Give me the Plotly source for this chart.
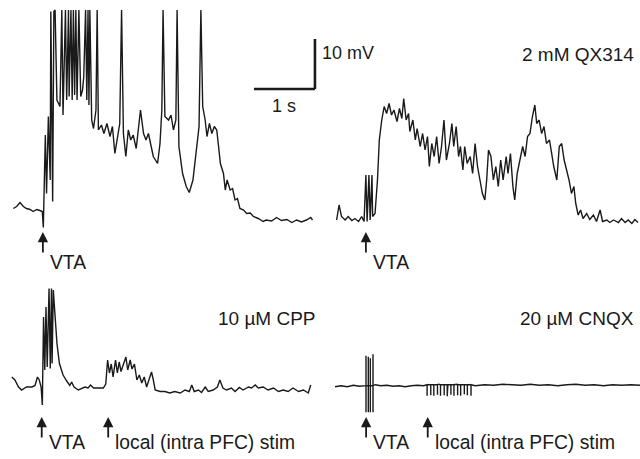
import plotly.graph_objects as go

# ---------------- data (time in s, membrane potential in mV relative to rest) ----------------
# Control (top-left)
ctrl_t = [0.005, 0.06, 0.115, 0.17, 0.22, 0.28, 0.33, 0.39, 0.44, 0.48, 0.497, 0.51, 0.53, 0.55, 0.58, 0.61,
          0.62, 0.65, 0.67, 0.69, 0.72, 0.77, 0.80, 0.82, 0.86, 0.88, 0.91, 0.92, 0.95, 0.97, 0.99, 1.01,
          1.03, 1.05, 1.08, 1.11, 1.14, 1.16, 1.19, 1.21, 1.23, 1.245, 1.26, 1.29, 1.32, 1.36, 1.38, 1.40,
          1.45, 1.49, 1.54, 1.59, 1.63, 1.67, 1.71, 1.75, 1.78, 1.81, 1.85, 1.89, 1.93, 1.97, 2.02, 2.05,
          2.09, 2.14, 2.18, 2.22, 2.26, 2.30, 2.37, 2.41, 2.44, 2.46, 2.49, 2.55, 2.59, 2.63, 2.67, 2.69,
          2.72, 2.78, 2.84, 2.89, 2.95, 3.01, 3.05, 3.08, 3.11, 3.15, 3.18, 3.22, 3.26, 3.30, 3.34, 3.37,
          3.40, 3.45, 3.48, 3.51, 3.56, 3.60, 3.64, 3.68, 3.72, 3.78, 3.83, 3.89, 3.94, 4.02, 4.10, 4.15,
          4.24, 4.32, 4.40, 4.49, 4.57, 4.65, 4.73, 4.81, 4.88, 4.91]
ctrl_v = [0.3, 0.7, 1.5, 0.7, 0.3, 0.1, -0.3, 0.1, -0.1, -0.3, -3.5, 4.7, 15.0, 3.3, 18.7, 6.0,
          39.7, 1.7, 39.7, 40.0, 22.0, 20.7, 40.0, 19.0, 40.0, 22.0, 40.0, 22.7, 40.0, 22.0, 40.0, 23.0,
          40.0, 22.0, 40.0, 22.7, 24.0, 26.7, 40.0, 22.0, 40.0, 21.0, 40.0, 18.0, 16.3, 20.0, 40.0, 16.0,
          17.0, 15.3, 17.3, 14.7, 16.7, 11.3, 14.7, 17.3, 40.0, 15.3, 10.7, 16.0, 14.0, 15.0, 12.3, 15.3,
          20.0, 15.3, 14.0, 15.3, 13.3, 10.7, 9.3, 13.3, 20.0, 40.0, 18.7, 18.0, 19.0, 16.0, 18.0, 40.0,
          12.7, 7.3, 4.7, 3.5, 6.0, 12.0, 16.7, 40.0, 20.7, 18.0, 14.7, 17.3, 15.3, 16.7, 16.0, 12.7,
          9.3, 7.3, 4.0, 6.0, 4.0, 4.3, 2.0, 2.3, 0.3, 0.0, -0.7, -0.6, -1.3, -1.7, -2.3, -2.0,
          -2.2, -1.5, -2.1, -1.9, -2.5, -2.0, -2.4, -2.0, -1.5, -2.0]

# 2 mM QX314 (top-right)
qx_t = [0.01, 0.05, 0.09, 0.15, 0.20, 0.26, 0.31, 0.37, 0.42, 0.46, 0.49, 0.51, 0.54, 0.56, 0.59, 0.60,
        0.64, 0.68, 0.71, 0.75, 0.79, 0.83, 0.87, 0.91, 0.95, 1.00, 1.04, 1.08, 1.11, 1.15, 1.19, 1.21,
        1.26, 1.30, 1.33, 1.38, 1.42, 1.46, 1.50, 1.53, 1.57, 1.61, 1.65, 1.69, 1.73, 1.77, 1.81, 1.86,
        1.90, 1.93, 1.97, 2.01, 2.04, 2.08, 2.11, 2.15, 2.20, 2.24, 2.28, 2.32, 2.36, 2.40, 2.44, 2.47,
        2.50, 2.54, 2.58, 2.62, 2.66, 2.70, 2.74, 2.79, 2.82, 2.86, 2.90, 2.93, 2.97, 3.02, 3.06, 3.10,
        3.14, 3.18, 3.22, 3.26, 3.29, 3.33, 3.37, 3.41, 3.45, 3.50, 3.54, 3.57, 3.62, 3.66, 3.70, 3.74,
        3.78, 3.82, 3.86, 3.90, 3.93, 3.97, 4.01, 4.05, 4.11, 4.16, 4.22, 4.27, 4.33, 4.37, 4.44, 4.49,
        4.55, 4.63, 4.68, 4.74, 4.79, 4.85, 4.90, 4.95]
qx_v = [0.0, 3.0, 0.7, 0.0, 0.7, -0.1, 0.3, -0.3, 0.7, -0.3, 9.0, -0.3, 9.0, 0.0, 9.0, 0.7,
        1.3, 8.0, 16.0, 20.0, 22.7, 21.3, 23.3, 21.0, 22.0, 19.7, 22.3, 20.3, 24.3, 20.0, 21.3, 17.7,
        20.0, 16.0, 18.3, 14.7, 17.3, 14.0, 16.7, 10.7, 15.3, 12.7, 16.7, 11.3, 14.7, 20.0, 12.0, 15.3,
        19.3, 14.7, 18.7, 12.7, 14.7, 10.0, 14.7, 11.3, 12.7, 9.3, 15.3, 10.7, 8.0, 5.3, 4.0, 8.0,
        14.0, 12.7, 8.0, 10.7, 6.7, 12.0, 8.0, 12.7, 9.3, 13.3, 6.7, 4.0, 9.3, 12.7, 14.7, 12.7,
        16.7, 17.3, 20.7, 23.0, 19.3, 20.0, 17.3, 18.7, 15.3, 16.0, 12.7, 10.7, 8.0, 14.7, 15.3, 12.0,
        10.0, 8.0, 5.3, 6.7, 3.3, 1.0, 2.0, 0.3, 1.3, 0.1, 1.0, -0.3, 2.0, -0.3, 0.0, -0.5,
        0.0, -0.5, 0.3, -0.5, 0.0, -0.7, 0.1, -0.5]

# 10 uM CPP (bottom-left)
cpp_t = [0.03, 0.08, 0.14, 0.19, 0.27, 0.36, 0.41, 0.45, 0.48, 0.51, 0.53, 0.55, 0.57, 0.59, 0.61, 0.64,
         0.66, 0.68, 0.69, 0.71, 0.74, 0.77, 0.81, 0.87, 0.93, 0.98, 1.01, 1.05, 1.12, 1.18, 1.23, 1.28,
         1.32, 1.37, 1.45, 1.53, 1.57, 1.60, 1.63, 1.66, 1.69, 1.73, 1.76, 1.79, 1.82, 1.86, 1.90, 1.93,
         1.97, 2.00, 2.04, 2.08, 2.12, 2.16, 2.20, 2.24, 2.28, 2.32, 2.35, 2.38, 2.46, 2.54, 2.62, 2.70,
         2.79, 2.87, 2.94, 2.98, 3.02, 3.09, 3.14, 3.20, 3.25, 3.33, 3.40, 3.44, 3.49, 3.55, 3.63, 3.69,
         3.76, 3.82, 3.91, 3.96, 4.02, 4.07, 4.15, 4.23, 4.32, 4.40, 4.48, 4.56, 4.64, 4.73, 4.81, 4.89,
         4.93]
cpp_v = [2.0, 1.4, 0.0, -0.6, 0.0, 0.0, 0.3, 2.0, 1.4, 0.0, -3.6, 14.0, 3.4, 16.0, 4.0, 19.7,
         3.7, 19.7, 4.7, 19.4, 14.0, 8.7, 4.7, 2.4, 1.2, 0.3, 1.0, 0.0, -0.6, -0.2, 0.0, -0.2,
         0.4, -0.2, -0.2, -0.2, 0.6, 5.4, 2.8, 4.6, 2.0, 5.4, 2.8, 5.0, 3.1, 4.6, 6.0, 3.4,
         5.4, 3.6, 4.6, 1.4, 2.4, 0.8, 2.0, 0.0, 1.4, 3.0, 1.4, -0.6, -0.9, -0.9, -1.2, -0.9,
         -1.2, -0.6, -0.9, 0.4, -0.9, -0.6, -1.1, 0.0, -0.9, -0.6, 0.0, 1.4, -0.2, -0.6, -0.2, -0.9,
         -0.1, -0.6, 0.0, -0.2, 0.4, -0.2, 0.0, -0.6, -0.2, -0.9, -0.6, -0.9, -0.2, -0.9, -0.6, -1.2,
         0.4]

# 20 uM CNQX (bottom-right): baseline plus stimulus artefacts
cnqx_t = [0.0, 0.1, 0.2, 0.3, 0.4, 0.47, 0.66, 0.75, 0.85, 0.95, 1.05, 1.15, 1.25, 1.35, 1.45, 1.55,
          1.7, 1.85, 2.0, 2.15, 2.3, 2.45, 2.6, 2.75, 2.9, 3.05, 3.2, 3.35, 3.5, 3.65, 3.8, 3.95,
          4.1, 4.25, 4.4, 4.55, 4.7, 4.85, 5.0]
cnqx_v = [-0.2, 0.0, -0.2, 0.1, -0.1, 0.0, 0.2, 0.0, 0.1, -0.1, 0.0, -0.2, 0.0, 0.1, 0.0, 0.2,
          0.3, 0.2, 0.3, 0.2, 0.0, 0.2, 0.1, 0.3, 0.2, 0.1, 0.3, 0.1, 0.2, 0.0, 0.2, 0.3,
          0.1, 0.2, 0.0, 0.2, 0.1, 0.2, 0.1]
cnqx_vta_pulse_t = [0.508, 0.546, 0.579, 0.623]
cnqx_vta_pulse_up = [6.0, 5.8, 5.5, 6.3]
cnqx_vta_pulse_down = [-5.3, -5.3, -5.3, -5.3]
cnqx_local_pulse_t = [1.51, 1.57, 1.62, 1.68, 1.73, 1.79, 1.84, 1.90, 1.95, 2.01, 2.06, 2.12, 2.17, 2.23]
cnqx_local_pulse_down = [-2.0, -1.9, -2.0, -1.8, -2.0, -1.9, -2.1, -1.8, -2.0, -1.9, -2.0, -1.7, -1.9, -2.0]

# stimulus times (s) per panel
stim_vta = [0.49, 0.49, 0.52, 0.51]
stim_local = [None, None, 1.61, 1.52]

panel_labels = ["", "2 mM QX314", "10 µM CPP", "20 µM CNQX"]
scale_bar_s = 1
scale_bar_mv = 10

# ---------------- layout constants ----------------
W, H = 640, 459
PX_PER_S = 61.0
PX_PER_MV = 5.0
# pixel origin (t=0, v=0) of each panel
origins = [(13, 210), (336, 220), (10, 387), (335, 385.7)]
LINE = "#1a1a1a"
FONT = "Liberation Sans, Arial, sans-serif"


def build_cnqx():
    pts = [(t, v, 0) for t, v in zip(cnqx_t, cnqx_v)]
    for t, up, dn in zip(cnqx_vta_pulse_t, cnqx_vta_pulse_up, cnqx_vta_pulse_down):
        pts += [(t, 0.0, 1), (t, up, 2), (t, dn, 3), (t, 0.0, 4)]
    for t, dn in zip(cnqx_local_pulse_t, cnqx_local_pulse_down):
        pts += [(t, 0.2, 1), (t, dn, 2), (t, 0.2, 3)]
    pts.sort(key=lambda p: (p[0], p[2]))
    return [p[0] for p in pts], [p[1] for p in pts]


cn_t, cn_v = build_cnqx()
series = [(ctrl_t, ctrl_v), (qx_t, qx_v), (cpp_t, cpp_v), (cn_t, cn_v)]

fig = go.Figure()
for i, (tt, vv) in enumerate(series):
    k = "" if i == 0 else str(i + 1)
    fig.add_trace(go.Scatter(x=tt, y=vv, mode="lines", xaxis="x" + k, yaxis="y" + k,
                             line=dict(color=LINE, width=1.4), hoverinfo="skip", showlegend=False))

axis_common = dict(visible=False, showgrid=False, zeroline=False, fixedrange=True)
layout = dict(width=W, height=H, margin=dict(l=0, r=0, t=0, b=0, pad=0),
              paper_bgcolor="white", plot_bgcolor="rgba(0,0,0,0)", showlegend=False)
for i, (x0, y0) in enumerate(origins):
    k = "" if i == 0 else str(i + 1)
    layout["xaxis" + k] = dict(axis_common, domain=[0, 1],
                               range=[-x0 / PX_PER_S, (W - x0) / PX_PER_S],
                               **({} if i == 0 else {"anchor": "y" + k}))
    layout["yaxis" + k] = dict(axis_common, domain=[0, 1],
                               range=[(y0 - H) / PX_PER_MV, y0 / PX_PER_MV],
                               **({} if i == 0 else {"anchor": "x" + k}))
fig.update_layout(**layout)


def py(Y):
    return 1 - Y / H


def px(X):
    return X / W


ann = []
shapes = []
arrow_head_Y = [232, 232, 417, 417]
label_Y = [262, 262, 442, 442]
for i in range(4):
    k = "" if i == 0 else str(i + 1)
    for st, txt in ((stim_vta[i], "VTA"), (stim_local[i], "local (intra PFC) stim")):
        if st is None:
            continue
        ann.append(dict(x=st, y=py(arrow_head_Y[i]), xref="x" + k, yref="paper", text="",
                        showarrow=True, arrowhead=2, arrowsize=1.15, arrowwidth=1.8,
                        arrowcolor=LINE, ax=0, ay=22))
        ann.append(dict(x=st, y=py(label_Y[i]), xref="x" + k, yref="paper", text=txt,
                        showarrow=False, xanchor="left", yanchor="middle", xshift=5,
                        font=dict(family=FONT, size=19.3, color=LINE)))

# condition labels
label_pos = [None, (636, 54), (318, 318), (636, 318)]
for i, lab in enumerate(panel_labels):
    if lab:
        X, Y = label_pos[i]
        ann.append(dict(x=px(X), y=py(Y), xref="paper", yref="paper", text=lab, showarrow=False,
                        xanchor="right", yanchor="middle", font=dict(family=FONT, size=19, color=LINE)))

# scale bar (in control panel units)
sb_t0, sb_v0 = 3.95, 24.2
shapes.append(dict(type="line", xref="x", yref="y", x0=sb_t0, x1=sb_t0 + scale_bar_s, y0=sb_v0, y1=sb_v0,
                   line=dict(color=LINE, width=2.6)))
shapes.append(dict(type="line", xref="x", yref="y", x0=sb_t0 + scale_bar_s, x1=sb_t0 + scale_bar_s,
                   y0=sb_v0, y1=sb_v0 + scale_bar_mv, line=dict(color=LINE, width=2.6)))
ann.append(dict(x=sb_t0 + scale_bar_s / 2, y=py(106), xref="x", yref="paper", text=f"{scale_bar_s} s",
                showarrow=False, xanchor="center", yanchor="middle", font=dict(family=FONT, size=18, color=LINE)))
ann.append(dict(x=sb_t0 + scale_bar_s, y=py(53), xref="x", yref="paper",
                text=f"{scale_bar_mv} mV", showarrow=False, xanchor="left", yanchor="middle", xshift=5,
                font=dict(family=FONT, size=18, color=LINE)))

fig.update_layout(annotations=ann, shapes=shapes)
fig.write_html("out.html", config={"displayModeBar": False, "staticPlot": True},
               post_script="document.body.style.margin='0';document.body.style.padding='0';")
